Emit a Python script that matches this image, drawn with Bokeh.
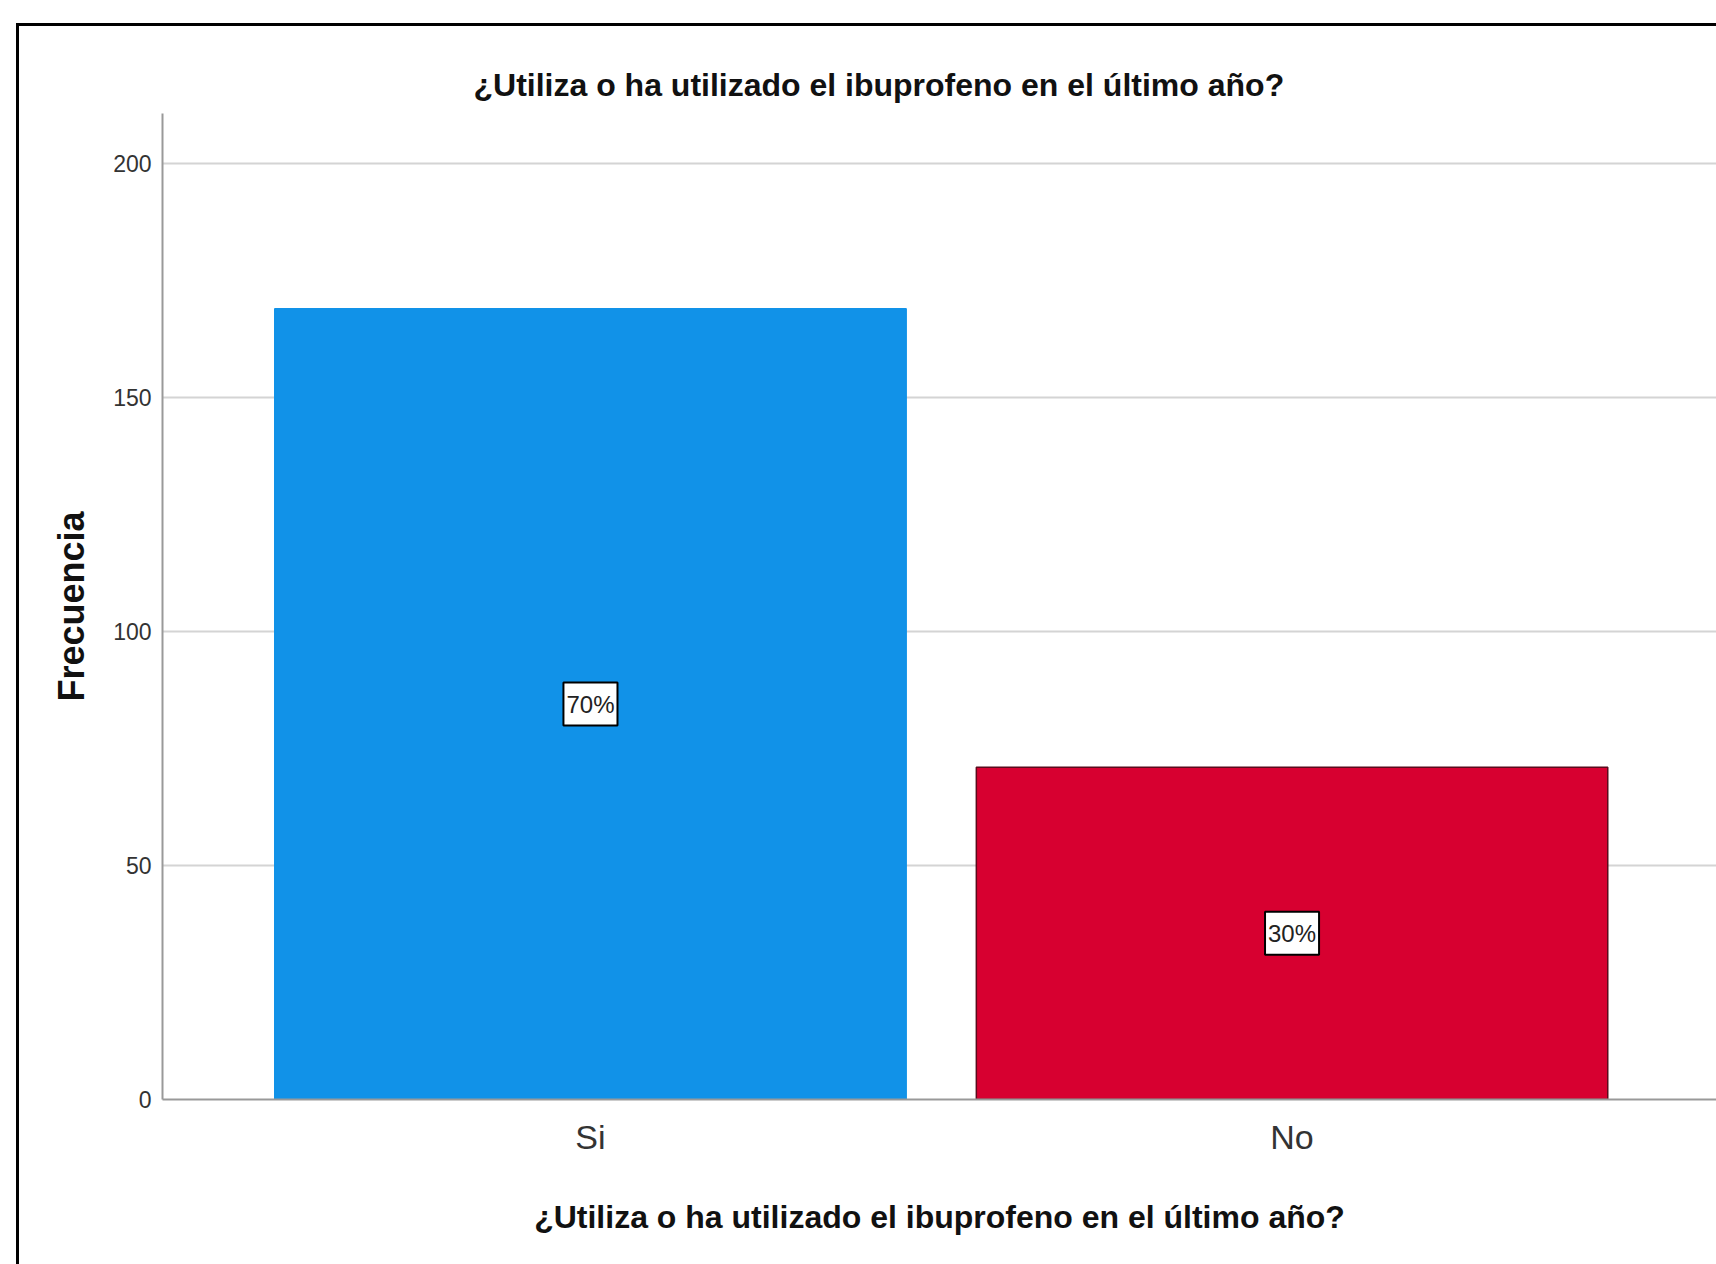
from bokeh.plotting import figure
from bokeh.models import (ColumnDataSource, Range1d, FixedTicker, Label,
                          InlineStyleSheet)
from bokeh.embed import file_html
from bokeh.resources import INLINE

# ---- data ----
categories = ["Si", "No"]
counts = [169, 71]
bar_colors = ["#1192e8", "#d70030"]
bar_lines = ["#1192e8", "#5c0a1c"]
y_ticks = [0, 50, 100, 150, 200]
title_text = "¿Utiliza o ha utilizado el ibuprofeno en el último año?"
x_title = "¿Utiliza o ha utilizado el ibuprofeno en el último año?"
y_title = "Frecuencia"

total = sum(counts)
x_pos = [i + 0.5 for i in range(len(categories))]
pct = [f"{round(100 * c / total)}%" for c in counts]
mid = [c / 2 for c in counts]

src = ColumnDataSource(dict(x=x_pos, top=counts, color=bar_colors,
                            line=bar_lines, pct=pct, mid=mid))

W, H = 1716, 1264
p = figure(width=W, height=H, output_backend="svg", toolbar_location=None,
           x_range=Range1d(-0.110, 2.105), y_range=Range1d(0, 210.7),
           min_border_left=162, min_border_right=0, min_border_top=113,
           min_border_bottom=165)
p.outline_line_color = None
p.background_fill_color = "white"
p.border_fill_color = "white"

p.vbar(x="x", top="top", width=0.9, fill_color="color", line_color="line",
       line_width=1.5, source=src)

for xv, yv, t in zip(x_pos, mid, pct):
    p.add_layout(Label(x=xv, y=yv, text=t, text_align="center",
                       text_baseline="middle", text_font_size="24px",
                       text_font="Liberation Sans",
                       text_color="#222222",
                       background_fill_color="white", border_line_color="black",
                       border_line_width=2,
                       padding=dict(left=3, right=3, top=8, bottom=8)))

# axes
p.yaxis.ticker = FixedTicker(ticks=y_ticks)
p.xaxis.ticker = FixedTicker(ticks=x_pos)
p.xaxis.major_label_overrides = {x: c for x, c in zip(x_pos, categories)}
for ax in (p.xaxis[0], p.yaxis[0]):
    ax.axis_line_color = "#999999"
    ax.axis_line_width = 2
    ax.major_tick_line_color = None
    ax.minor_tick_line_color = None
    ax.major_tick_out = 0
    ax.major_tick_in = 0
    ax.major_label_text_color = "#333333"
    ax.major_label_text_font = "Liberation Sans"
    ax.axis_label_text_font = "Liberation Sans"
    ax.axis_label_text_font_style = "bold"
    ax.axis_label_text_color = "#111111"

p.yaxis.major_label_text_font_size = "23px"
p.yaxis.major_label_standoff = 11
p.yaxis.axis_label = y_title
p.yaxis.axis_label_text_font_size = "36px"
p.yaxis.axis_label_standoff = 18

p.xaxis.major_label_text_font_size = "34px"
p.xaxis.major_label_standoff = 18
p.xaxis.axis_label = x_title
p.xaxis.axis_label_text_font_size = "32px"
p.xaxis.axis_label_standoff = 40

p.xgrid.grid_line_color = None
p.ygrid.grid_line_color = "#d4d4d4"
p.ygrid.grid_line_width = 2

# title
p.title.text = title_text
p.title.align = "left"
p.title.offset = 311
p.title.standoff = 21
p.title.text_font = "Liberation Sans"
p.title.text_font_style = "bold"
p.title.text_font_size = "32px"
p.title.text_color = "#111111"

# outer frame line (top and left visible, as in the cropped original)
p.stylesheets = [InlineStyleSheet(css="""
:host { position: relative; }
:host::after {
  content: ""; position: absolute; left: 16px; top: 23px; right: 0; bottom: 0;
  border-top: 3px solid #000; border-left: 3px solid #000;
  pointer-events: none; z-index: 10;
}
""")]

open("out.html", "w").write(file_html(p, INLINE))
